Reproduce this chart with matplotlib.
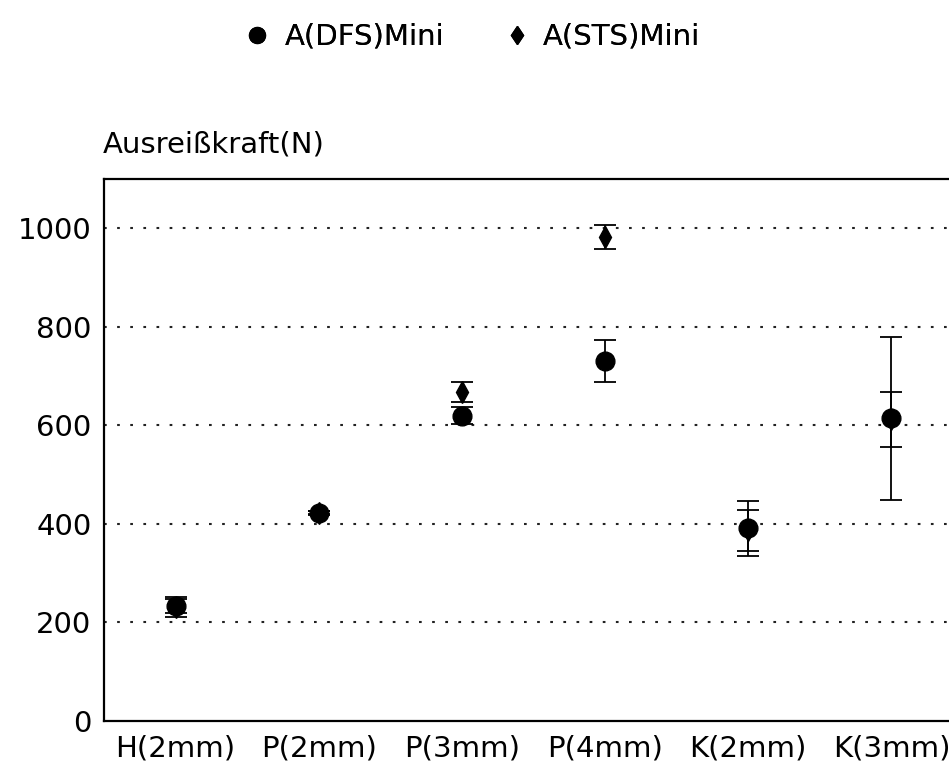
import matplotlib
matplotlib.use("Agg")
import matplotlib.pyplot as plt
import numpy as np

categories = ["H(2mm)", "P(2mm)", "P(3mm)", "P(4mm)", "K(2mm)", "K(3mm)"]
dfs_values = [234, 422, 620, 731, 391, 614]
dfs_errors = [14, 4, 17, 43, 56, 166]
sts_values = [231, 423, 668, 982, 387, 612]
sts_errors = [20, 3, 20, 25, 41, 56]
series_labels = ["A(DFS)Mini", "A(STS)Mini"]
y_label = "Ausreißkraft(N)"
y_ticks = [0, 200, 400, 600, 800, 1000]

plt.rcParams['font.family'] = ['DejaVu Sans']
FS = 21
PX = 0.72  # points per pixel at dpi 100

W, H = 949, 772
fig = plt.figure(figsize=(W / 100, H / 100), dpi=100)
ax = fig.add_axes([104 / W, 1 - 721 / H, (963 - 104) / W, (721 - 179) / H])

x = np.arange(len(categories))
c_sts = ax.errorbar(x, sts_values, yerr=sts_errors, fmt='d', color='black',
                    markersize=11, ecolor='black', elinewidth=1.3, capsize=11 * PX,
                    capthick=1.3, zorder=3, label=series_labels[1])
c_dfs = ax.errorbar(x, dfs_values, yerr=dfs_errors, fmt='o', color='black',
                    markersize=13.5, ecolor='black', elinewidth=1.3, capsize=11 * PX,
                    capthick=1.3, zorder=4, label=series_labels[0])

ax.set_xlim(-0.5, len(categories) - 0.5)
ax.set_ylim(0, 1100)
ax.set_yticks(y_ticks)
ax.set_xticks(x)
ax.set_xticklabels(categories, fontsize=FS)
ax.set_yticklabels([str(t) for t in y_ticks], fontsize=FS)
ax.tick_params(axis='both', length=0)
ax.tick_params(axis='y', pad=9)
ax.tick_params(axis='x', pad=10)

for t in y_ticks[1:]:
    ax.axhline(t, color='#222222', linewidth=1.5, linestyle=(0, (1.3, 5)), zorder=1)

for s in ax.spines.values():
    s.set_linewidth(1.6)
    s.set_color('black')

fig.text(103 / W, 1 - 145 / H, y_label, fontsize=FS, ha='left', va='center')

em = FS / PX  # font size in pixels
hl = 0.8
for handle, label, cx, tx in [(c_dfs[0], series_labels[0], 257, 285),
                              (c_sts[0], series_labels[1], 517, 543)]:
    left = cx - hl * em / 2
    pad = (tx - left - hl * em) / em
    leg = fig.legend(handles=[handle], labels=[label], loc='center left',
                     bbox_to_anchor=(left / W, 1 - 37 / H), frameon=False,
                     fontsize=FS, handlelength=hl, handletextpad=pad,
                     borderpad=0, borderaxespad=0, markerscale=0.85)
    fig.add_artist(leg)

fig.savefig("out.png", dpi=100)
